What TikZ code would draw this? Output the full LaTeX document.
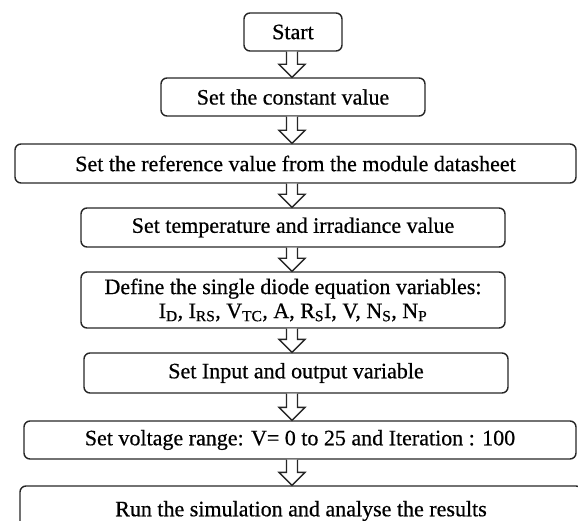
\documentclass[tikz,border=0pt]{standalone}
\usepackage{fontspec}
\setmainfont{Liberation Serif}[RawFeature={embolden=0.6}]
\usetikzlibrary{calc}
\tikzset{
  stepbox/.style={draw=black!85, line width=1.4pt, rounded corners=6pt, inner sep=0pt,
    font=\fontsize{22}{24}\selectfont, align=center},
  arrowline/.style={draw=black!85, line width=1.4pt, fill=white, line join=miter},
}
\newcommand\blockarrow[2]{%
  \path[arrowline] let \p1=(#1.south), \p2=(#2.north) in
    ({292pt-5.5pt},\y1) -- ({292pt-5.5pt},{\y2+13pt}) -- ({292pt-13pt},{\y2+13pt}) --
    (292pt,\y2) -- ({292pt+13pt},{\y2+13pt}) -- ({292pt+5.5pt},{\y2+13pt}) -- ({292pt+5.5pt},\y1);}
\begin{document}
\begin{tikzpicture}[x=1pt,y=1pt]
\useasboundingbox (0,0) rectangle (578,-521);
\begin{scope}
\clip (0,0) rectangle (578,-521);
\node[stepbox, minimum width=98pt, minimum height=38pt] (start) at (293,-32) {Start};
\node[stepbox, minimum width=264pt, minimum height=38pt] (b2) at (293,-97) {Set the constant value};
\node[stepbox, minimum width=561pt, minimum height=39pt] (b3) at (295.5,-163.5) {Set the reference value from the module datasheet};
\node[stepbox, minimum width=424pt, minimum height=39pt] (b4) at (293,-227.5) {Set temperature and irradiance value};
\node[stepbox, minimum width=424pt, minimum height=56pt] (b5) at (293,-300) {Define the single diode equation variables:\\
I\textsubscript{D}, I\textsubscript{RS}, V\textsubscript{TC}, A, R\textsubscript{S}I, V, N\textsubscript{S}, N\textsubscript{P}};
\node[stepbox, minimum width=424pt, minimum height=40pt] (b6) at (296,-373) {Set Input and output variable};
\node[stepbox, minimum width=552pt, minimum height=38pt] (b7) at (300,-440) {Set voltage range: V= 0 to 25 and Iteration : 100};
\node[stepbox, minimum width=562pt, minimum height=50pt] (b8) at (301,-511) {Run the simulation and analyse the results};
\blockarrow{start}{b2}
\blockarrow{b2}{b3}
\blockarrow{b3}{b4}
\blockarrow{b4}{b5}
\blockarrow{b5}{b6}
\blockarrow{b6}{b7}
\blockarrow{b7}{b8}
\end{scope}
\end{tikzpicture}
\end{document}
